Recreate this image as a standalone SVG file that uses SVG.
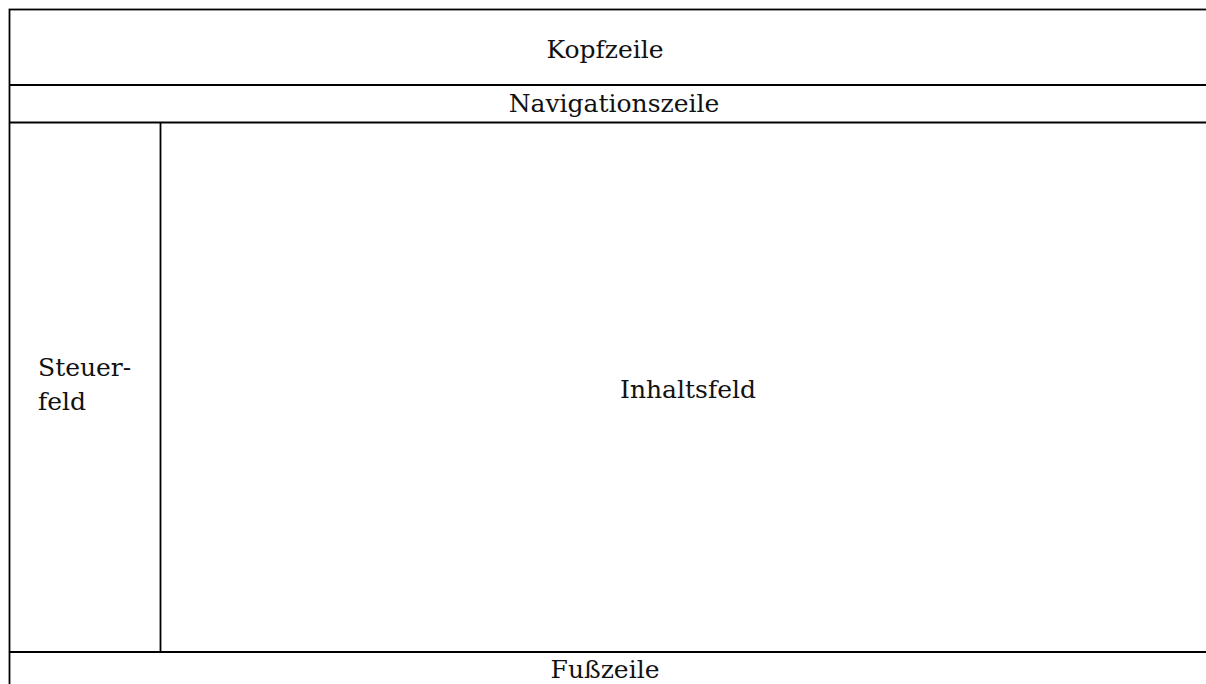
<svg xmlns="http://www.w3.org/2000/svg" width="1206" height="684" viewBox="0 0 1206 684">
<style>
.b{fill:none;stroke:#000;stroke-width:1.8}
.t{font-family:"DejaVu Serif","Liberation Serif",serif;font-size:25px;fill:#111;text-anchor:middle}
.l{text-anchor:start}
</style>
<rect width="1206" height="684" fill="#fff"/>
<g id="frame">
<rect class="b" x="9.5" y="9.5" width="1210" height="690"/>
</g>
<g id="kopfzeile">
<line class="b" x1="9.5" y1="85" x2="1210" y2="85"/>
<text class="t" x="605" y="58">Kopfzeile</text>
</g>
<g id="navigationszeile">
<line class="b" x1="9.5" y1="122.5" x2="1210" y2="122.5"/>
<text class="t" x="614" y="112">Navigationszeile</text>
</g>
<g id="steuerfeld">
<line class="b" x1="160.5" y1="122.5" x2="160.5" y2="652"/>
<text class="t l" x="38" y="376">Steuer-</text>
<text class="t l" x="38" y="410">feld</text>
</g>
<g id="inhaltsfeld">
<text class="t" x="688" y="398">Inhaltsfeld</text>
</g>
<g id="fusszeile">
<line class="b" x1="9.5" y1="652" x2="1210" y2="652"/>
<text class="t" x="605" y="678">Fußzeile</text>
</g>
</svg>
